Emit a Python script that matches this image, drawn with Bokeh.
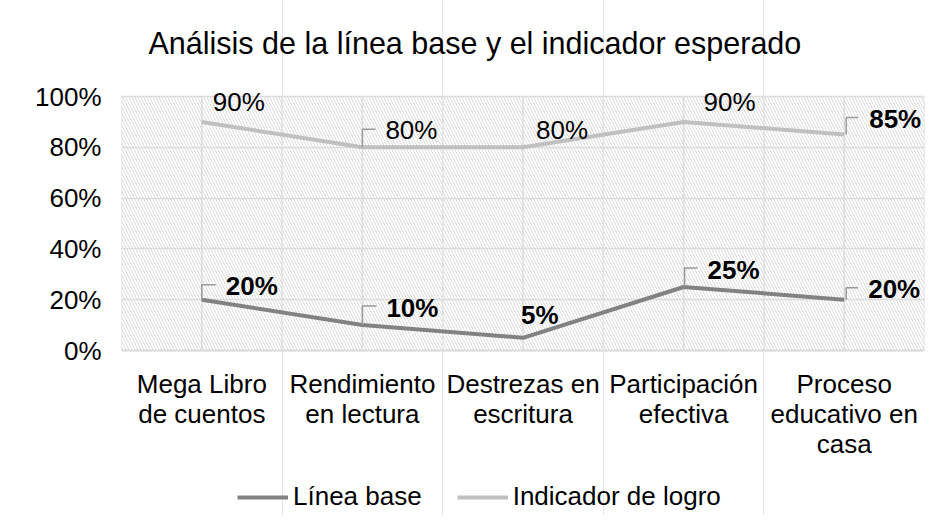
from bokeh.plotting import figure
from bokeh.models import (Range1d, FixedTicker, NumeralTickFormatter, BoxAnnotation,
                          Legend, LegendItem, ColumnDataSource)
from bokeh.embed import file_html
from bokeh.resources import INLINE
from bokeh.core.properties import value

# ---------------- data ----------------
categories = ["Mega Libro\nde cuentos", "Rendimiento\nen lectura", "Destrezas en\nescritura",
              "Participación\nefectiva", "Proceso\neducativo en\ncasa"]
linea_base = [0.20, 0.10, 0.05, 0.25, 0.20]
indicador_logro = [0.90, 0.80, 0.80, 0.90, 0.85]
series_names = ["Línea base", "Indicador de logro"]
y_ticks = [0.0, 0.2, 0.4, 0.6, 0.8, 1.0]
title_text = "Análisis de la línea base y el indicador esperado"

# ---------------- styles / layout ----------------
FONT = "Liberation Sans"
W, H = 931, 515
PLOT_TOP, PLOT_BOTTOM = 96, 350      # canvas px of 100 % and 0 %
LEFT, RIGHT = 121, 7
PLOT_H = PLOT_BOTTOM - PLOT_TOP
FW = W - LEFT - RIGHT
C_BASE = "#828282"
C_IND = "#c0c0c0"
GRID = "#dcdcdc"

n = len(categories)
xs = [i + 0.5 for i in range(n)]
px_x = n / FW           # data units per pixel (x)
px_y = 1.0 / PLOT_H     # data units per pixel (y)
y_top = 1.0 + PLOT_TOP * px_y
y_bot = -(H - PLOT_BOTTOM) * px_y

p = figure(width=W, height=H, output_backend="svg", toolbar_location=None,
           x_range=Range1d(0, n), y_range=Range1d(y_bot, y_top), x_axis_location=None,
           min_border_left=LEFT, min_border_right=RIGHT,
           min_border_top=0, min_border_bottom=0)
p.frame_width = FW
p.frame_height = H
p.outline_line_color = None
p.background_fill_color = "white"
p.border_fill_color = "white"

# hatched plot area (0..100 %)
p.add_layout(BoxAnnotation(bottom=0, top=1.0, left=0, right=n, fill_alpha=0, line_alpha=0,
                           hatch_pattern="\\", hatch_color="#d9d9d9",
                           hatch_scale=6, hatch_weight=0.9, level="image"))

# grids: horizontal via Grid, vertical as segments limited to 0..100 %
p.ygrid.ticker = FixedTicker(ticks=y_ticks)
p.ygrid.grid_line_color = GRID
p.ygrid.grid_line_width = 1.5
vx = [i * 0.5 for i in range(2 * n + 1)]
p.segment(x0=vx, y0=[0] * len(vx), x1=vx, y1=[1.0] * len(vx),
          line_color=GRID, line_width=1.5, level="underlay")
# category axis base line
p.segment(x0=[0], y0=[0], x1=[n], y1=[0], line_color=GRID, line_width=2, level="underlay")

# y axis
p.yaxis.ticker = FixedTicker(ticks=y_ticks)
p.yaxis.formatter = NumeralTickFormatter(format="0%")
p.yaxis.axis_line_color = None
p.yaxis.major_tick_line_color = None
p.yaxis.minor_tick_line_color = None
p.yaxis.major_tick_out = 0
p.yaxis.major_label_standoff = 20
p.yaxis.major_label_text_font = FONT
p.yaxis.major_label_text_font_size = "26px"
p.yaxis.major_label_text_color = "#000000"

# category labels (wrapped like Excel, 30 px line spacing)
cx, cy, ct, co = [], [], [], []
for x, c in zip(xs, categories):
    for k, line in enumerate(c.split("\n")):
        cx.append(x)
        cy.append(0)
        ct.append(line)
        co.append(33 + 30 * k)
p.text(x=cx, y=cy, text=ct, y_offset=co, text_font=value(FONT), text_font_size="26px",
       text_align="center", text_baseline="middle", text_color="#000000")

# lines
r_base = p.line(xs, linea_base, line_color=C_BASE, line_width=4)
r_ind = p.line(xs, indicador_logro, line_color=C_IND, line_width=4)

# data labels (offsets in px; negative dy = up)
base_dx = [24, 24, -2, 24, 24]
base_dy = [-14, -17, -23, -17, -11]
ind_dx = [11, 23, 13, 20, 25]
ind_dy = [-20, -17, -17, -20, -16]
base_bold = ["bold"] * n
ind_bold = ["normal", "normal", "normal", "normal", "bold"]

for vals, dx, dy, wt in ((linea_base, base_dx, base_dy, base_bold),
                         (indicador_logro, ind_dx, ind_dy, ind_bold)):
    src = ColumnDataSource(dict(x=xs, y=vals, t=[f"{v:.0%}" for v in vals],
                                dx=dx, dy=dy, wt=wt))
    p.text(x="x", y="y", text="t", x_offset="dx", y_offset="dy", source=src,
           text_font=value(FONT), text_font_size="26px", text_font_style="wt",
           text_align="left", text_baseline="middle", text_color="#000000")

# leader lines: (series, index, vertical rise px, x start px, x end px)
leaders = [(linea_base, 0, 15, 0, 14), (linea_base, 1, 19, 0, 14),
           (linea_base, 3, 19, 1, 14), (linea_base, 4, 12, 2, 14),
           (indicador_logro, 1, 18, 0, 13), (indicador_logro, 4, 17, 2, 14)]
lx, ly = [], []
for vals, i, rise, x0, x1 in leaders:
    x = xs[i]
    y = vals[i]
    lx.append([x + x0 * px_x, x + x0 * px_x, x + x1 * px_x])
    ly.append([y, y + rise * px_y, y + rise * px_y])
p.multi_line(lx, ly, line_color="#9a9a9a", line_width=1.5)

# title
p.text(x=[0], y=[1.0], text=[title_text], x_offset=27, y_offset=-54,
       text_font=value(FONT), text_font_size="30.5px", text_align="left",
       text_baseline="middle", text_color="#000000")

# legend
legend = Legend(items=[LegendItem(label=series_names[0], renderers=[r_base]),
                       LegendItem(label=series_names[1], renderers=[r_ind])],
                orientation="horizontal", location=(116, 3),
                glyph_width=51, glyph_height=30, label_height=30, label_standoff=5,
                spacing=35, padding=0, margin=0, border_line_alpha=0,
                background_fill_alpha=0, label_text_font=FONT,
                label_text_font_size="26px", label_text_color="#000000")
p.add_layout(legend, "center")

open("out.html", "w").write(file_html(p, INLINE))
